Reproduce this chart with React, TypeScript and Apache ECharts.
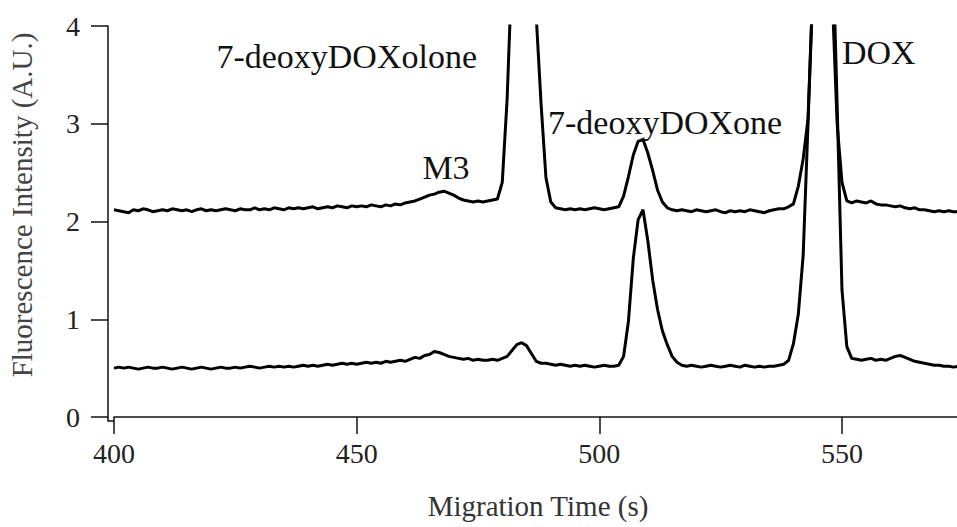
import React, { useEffect, useRef } from "react";
import * as echarts from "echarts";

// Electropherogram sampled once per second, starting at 400 s
const startTime = 400;
const sampleStep = 1;

// Upper trace (offset sample), fluorescence in A.U., 400 s … 574 s
const upperTrace = [
  2.12, 2.11, 2.10, 2.09, 2.12, 2.11, 2.13, 2.12, 2.10, 2.11, // 400
  2.12, 2.11, 2.13, 2.12, 2.11, 2.12, 2.10, 2.12, 2.13, 2.11, // 410
  2.12, 2.11, 2.12, 2.13, 2.12, 2.11, 2.13, 2.12, 2.12, 2.14, // 420
  2.12, 2.13, 2.12, 2.14, 2.13, 2.12, 2.14, 2.13, 2.14, 2.13, // 430
  2.14, 2.15, 2.13, 2.14, 2.15, 2.14, 2.16, 2.15, 2.14, 2.16, // 440
  2.15, 2.16, 2.15, 2.17, 2.16, 2.15, 2.17, 2.16, 2.18, 2.17, // 450
  2.19, 2.20, 2.21, 2.23, 2.25, 2.27, 2.28, 2.30, 2.31, 2.29, // 460
  2.27, 2.24, 2.22, 2.21, 2.20, 2.21, 2.20, 2.21, 2.22, 2.23, // 470
  2.40, 3.25, 4.60, 6.40, 7.20, 6.90, 5.80, 4.10, 3.20, 2.45, // 480
  2.20, 2.14, 2.13, 2.12, 2.13, 2.12, 2.13, 2.12, 2.13, 2.14, // 490
  2.13, 2.12, 2.13, 2.14, 2.15, 2.26, 2.46, 2.68, 2.82, 2.84, // 500
  2.70, 2.52, 2.32, 2.20, 2.14, 2.12, 2.11, 2.12, 2.11, 2.10, // 510
  2.12, 2.11, 2.10, 2.11, 2.12, 2.10, 2.09, 2.11, 2.10, 2.11, // 520
  2.10, 2.12, 2.11, 2.10, 2.09, 2.11, 2.12, 2.13, 2.13, 2.15, // 530
  2.18, 2.36, 2.64, 3.05, 4.40, 6.20, 7.60, 6.60, 4.30, 3.00, // 540
  2.40, 2.21, 2.19, 2.21, 2.20, 2.19, 2.21, 2.18, 2.17, 2.17, // 550
  2.16, 2.15, 2.16, 2.14, 2.13, 2.14, 2.12, 2.12, 2.11, 2.10, // 560
  2.11, 2.10, 2.11, 2.10, 2.10, // 570
];

// Lower trace (reference sample), fluorescence in A.U., 400 s … 574 s
const lowerTrace = [
  0.50, 0.51, 0.50, 0.51, 0.50, 0.49, 0.50, 0.51, 0.50, 0.50, // 400
  0.51, 0.50, 0.49, 0.50, 0.51, 0.50, 0.49, 0.50, 0.51, 0.50, // 410
  0.49, 0.50, 0.51, 0.50, 0.50, 0.51, 0.50, 0.51, 0.52, 0.51, // 420
  0.50, 0.51, 0.52, 0.51, 0.52, 0.51, 0.52, 0.51, 0.52, 0.53, // 430
  0.52, 0.53, 0.52, 0.53, 0.54, 0.53, 0.54, 0.55, 0.54, 0.55, // 440
  0.54, 0.55, 0.56, 0.55, 0.56, 0.55, 0.57, 0.56, 0.57, 0.58, // 450
  0.57, 0.59, 0.61, 0.60, 0.63, 0.64, 0.67, 0.66, 0.64, 0.62, // 460
  0.61, 0.60, 0.59, 0.60, 0.58, 0.59, 0.58, 0.58, 0.59, 0.58, // 470
  0.60, 0.62, 0.68, 0.74, 0.76, 0.73, 0.65, 0.57, 0.55, 0.55, // 480
  0.54, 0.53, 0.54, 0.53, 0.52, 0.53, 0.52, 0.53, 0.52, 0.51, // 490
  0.52, 0.53, 0.52, 0.52, 0.53, 0.62, 0.98, 1.62, 2.02, 2.12, // 500
  1.80, 1.40, 1.10, 0.88, 0.74, 0.62, 0.56, 0.53, 0.52, 0.53, // 510
  0.52, 0.51, 0.52, 0.53, 0.52, 0.51, 0.52, 0.53, 0.52, 0.51, // 520
  0.53, 0.52, 0.51, 0.52, 0.51, 0.52, 0.52, 0.53, 0.54, 0.58, // 530
  0.75, 1.05, 1.65, 3.00, 4.40, 6.50, 8.00, 7.00, 5.00, 3.20, // 540
  1.30, 0.72, 0.60, 0.59, 0.58, 0.59, 0.60, 0.58, 0.59, 0.58, // 550
  0.60, 0.62, 0.63, 0.61, 0.59, 0.57, 0.56, 0.55, 0.54, 0.53, // 560
  0.53, 0.52, 0.52, 0.51, 0.52, // 570
];

const xTicks = [400, 450, 500, 550];
const yTickStep = 1;
const xTitle = "Migration Time (s)";
const yTitle = "Fluorescence Intensity (A.U.)";
const peakNames = ["7-deoxyDOXolone", "M3", "7-deoxyDOXone", "DOX"];

const serif = "'Liberation Serif', 'Times New Roman', serif";

const toPoints = (values: number[]) =>
  values.map((v, i) => [startTime + i * sampleStep, v]);

export default function App() {
  const ref = useRef<HTMLDivElement>(null);

  useEffect(() => {
    if (!ref.current) return;
    const chart = echarts.init(ref.current, undefined, { renderer: "svg" });

    const axisColor = "#111";
    const labelStyle = { fontFamily: serif, fontSize: 28, color: "#222" };
    const annotation = (text: string, x: number, y: number, align: string) => ({
      type: "text",
      x,
      y,
      style: {
        text,
        font: `34px ${serif}`,
        fill: "#111",
        align,
        verticalAlign: "middle",
      },
    });

    chart.setOption({
      animation: false,
      backgroundColor: "#ffffff",
      grid: { left: 114, right: 0, top: 26, bottom: 110 },
      xAxis: {
        type: "value",
        min: 400,
        max: 573.7,
        offset: 4,
        axisLine: { show: true, lineStyle: { color: axisColor, width: 1.5 } },
        axisTick: {
          show: true,
          length: 17,
          customValues: xTicks,
          lineStyle: { color: axisColor, width: 1.5 },
        },
        axisLabel: { customValues: xTicks, margin: 18, ...labelStyle },
        splitLine: { show: false },
      },
      yAxis: {
        type: "value",
        min: 0,
        max: 4,
        interval: yTickStep,
        offset: 6,
        axisLine: { show: true, lineStyle: { color: axisColor, width: 1.5 } },
        axisTick: { show: true, length: 17, lineStyle: { color: axisColor, width: 1.5 } },
        axisLabel: { margin: 28, ...labelStyle },
        splitLine: { show: false },
      },
      series: [
        {
          type: "line",
          data: toPoints(upperTrace),
          showSymbol: false,
          clip: true,
          lineStyle: { color: "#000", width: 3 },
        },
        {
          type: "line",
          data: toPoints(lowerTrace),
          showSymbol: false,
          clip: true,
          lineStyle: { color: "#000", width: 3 },
        },
      ],
      graphic: [
        // joins the offset axes at the lower-left corner
        {
          type: "polyline",
          shape: { points: [[108, 417], [108, 421], [114, 421]] },
          style: { stroke: axisColor, lineWidth: 1.5, fill: "none" },
        },
        {
          type: "text",
          x: 538,
          y: 506,
          style: {
            text: xTitle,
            font: `29px ${serif}`,
            fill: "#333",
            align: "center",
            verticalAlign: "middle",
          },
        },
        {
          type: "text",
          x: 22,
          y: 205,
          rotation: Math.PI / 2,
          style: {
            text: yTitle,
            font: `29px ${serif}`,
            fill: "#444",
            align: "center",
            verticalAlign: "middle",
          },
        },
        annotation(peakNames[0], 477, 56, "right"),
        annotation(peakNames[1], 446, 167, "center"),
        annotation(peakNames[2], 548, 122, "left"),
        annotation(peakNames[3], 842, 52, "left"),
      ],
    });

    return () => chart.dispose();
  }, []);

  return (
    <div
      ref={ref}
      style={{ position: "fixed", left: 0, top: 0, width: 957, height: 527 }}
    />
  );
}
